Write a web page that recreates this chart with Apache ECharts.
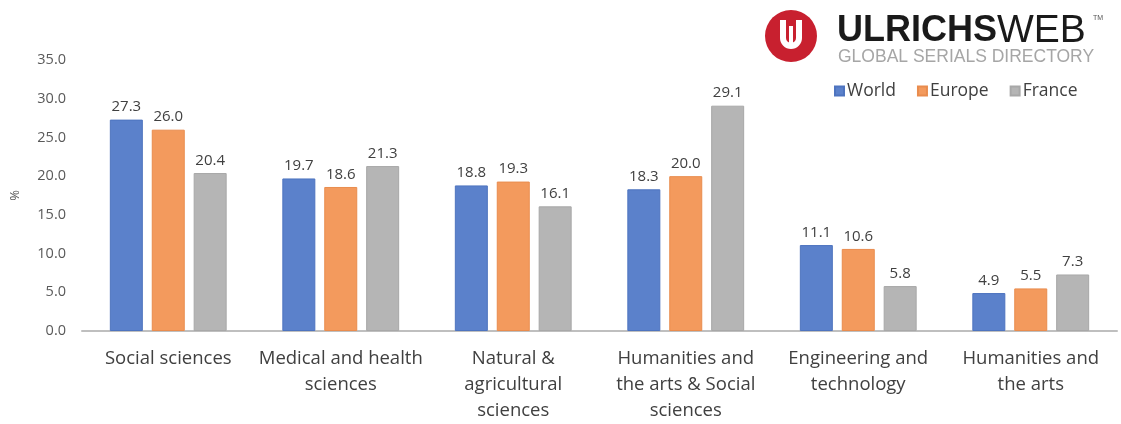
<!DOCTYPE html>
<html>
<head>
<meta charset="utf-8">
<script src="https://cdn.jsdelivr.net/npm/echarts@6/dist/echarts.min.js"></script>
<style>
  html, body { margin: 0; padding: 0; background: #fff; }
  #chart { width: 1121px; height: 424px; }
</style>
</head>
<body>
<div id="chart"></div>
<script>
// Share of serials by subject field (%)
const categories = [
  'Social sciences',
  'Medical and health\nsciences',
  'Natural &\nagricultural\nsciences',
  'Humanities and\nthe arts & Social\nsciences',
  'Engineering and\ntechnology',
  'Humanities and\nthe arts'
];
const worldValues  = [27.3, 19.7, 18.8, 18.3, 11.1, 4.9];
const europeValues = [26.0, 18.6, 19.3, 20.0, 10.6, 5.5];
const franceValues = [20.4, 21.3, 16.1, 29.1, 5.8, 7.3];
const seriesNames = ['World', 'Europe', 'France'];
const yTicks = { min: 0, max: 35, interval: 5 };

const FONT = '"Open Sans", "Noto Sans", sans-serif';
const LOGO_FONT = '"Liberation Sans", Arial, sans-serif';
const colors = ['#5b81cb', '#f39a5d', '#b5b5b5'];
const borders = ['#4e74bf', '#e98c4e', '#a8a8a8'];

const chart = echarts.init(document.getElementById('chart'), null, { renderer: 'canvas' });

function barSeries(name, data, i) {
  return {
    name: name,
    type: 'bar',
    data: data,
    barWidth: 33,
    barGap: '27%',
    itemStyle: { color: colors[i], borderColor: borders[i], borderWidth: 1 },
    label: {
      show: true,
      position: 'top',
      distance: 5,
      color: '#404040',
      fontFamily: FONT,
      fontSize: 15,
      formatter: p => p.value.toFixed(1)
    }
  };
}

chart.setOption({
  backgroundColor: '#ffffff',
  animation: false,
  textStyle: { fontFamily: FONT },
  grid: { left: 82, right: 4, top: 60, bottom: 92, containLabel: false },
  legend: {
    data: seriesNames,
    left: 829,
    top: 77,
    itemWidth: 9,
    itemHeight: 9,
    itemGap: 21,
    icon: 'rect',
    textStyle: { color: '#404040', fontSize: 17.5, fontFamily: FONT, padding: [0, 0, 0, -2] }
  },
  xAxis: {
    type: 'category',
    data: categories,
    axisLine: { show: true, lineStyle: { color: '#bfbfbf', width: 2 } },
    axisTick: { show: false },
    axisLabel: {
      color: '#404040',
      fontSize: 18.5,
      lineHeight: 26,
      margin: 15,
      interval: 0,
      fontFamily: FONT
    }
  },
  yAxis: {
    type: 'value',
    min: yTicks.min,
    max: yTicks.max,
    interval: yTicks.interval,
    name: '%',
    nameLocation: 'middle',
    nameRotate: 90,
    nameGap: 60,
    nameTextStyle: { color: '#595959', fontSize: 13, fontFamily: FONT },
    axisLine: { show: false },
    axisTick: { show: false },
    splitLine: { show: false },
    axisLabel: {
      color: '#595959',
      fontSize: 14.5,
      margin: 16,
      fontFamily: FONT,
      formatter: v => v.toFixed(1)
    }
  },
  graphic: [
    // Round red emblem with a white "U"
    { type: 'circle', shape: { cx: 791, cy: 36, r: 26 }, style: { fill: '#c8202f' } },
    {
      type: 'arc',
      shape: { cx: 791, cy: 38, r: 8, startAngle: 0, endAngle: Math.PI, clockwise: true },
      style: { stroke: '#ffffff', lineWidth: 6, fill: null }
    },
    { type: 'rect', shape: { x: 780, y: 20, width: 6, height: 18 }, style: { fill: '#ffffff' } },
    { type: 'rect', shape: { x: 796, y: 20, width: 6, height: 18 }, style: { fill: '#ffffff' } },
    { type: 'rect', shape: { x: 789, y: 26, width: 4, height: 22 }, style: { fill: '#ffffff' } },
    {
      type: 'text',
      left: 837,
      top: 12,
      style: {
        text: '{b|ULRICHS}{r|WEB}',
        rich: {
          b: { fontFamily: LOGO_FONT, fontWeight: 'bold', fontSize: 36, fill: '#1a1a1a', color: '#1a1a1a' },
          r: { fontFamily: LOGO_FONT, fontSize: 39, fill: '#1a1a1a', color: '#1a1a1a' }
        }
      }
    },
    {
      type: 'text',
      left: 1093,
      top: 15,
      style: { text: 'TM', fontSize: 7, fill: '#555', fontFamily: LOGO_FONT }
    },
    {
      type: 'text',
      left: 838,
      top: 48,
      style: {
        text: 'GLOBAL SERIALS DIRECTORY',
        fontSize: 17.5,
        fill: '#a6a6a6',
        fontFamily: LOGO_FONT
      }
    }
  ],
  series: [
    barSeries(seriesNames[0], worldValues, 0),
    barSeries(seriesNames[1], europeValues, 1),
    barSeries(seriesNames[2], franceValues, 2)
  ]
});
</script>
</body>
</html>
